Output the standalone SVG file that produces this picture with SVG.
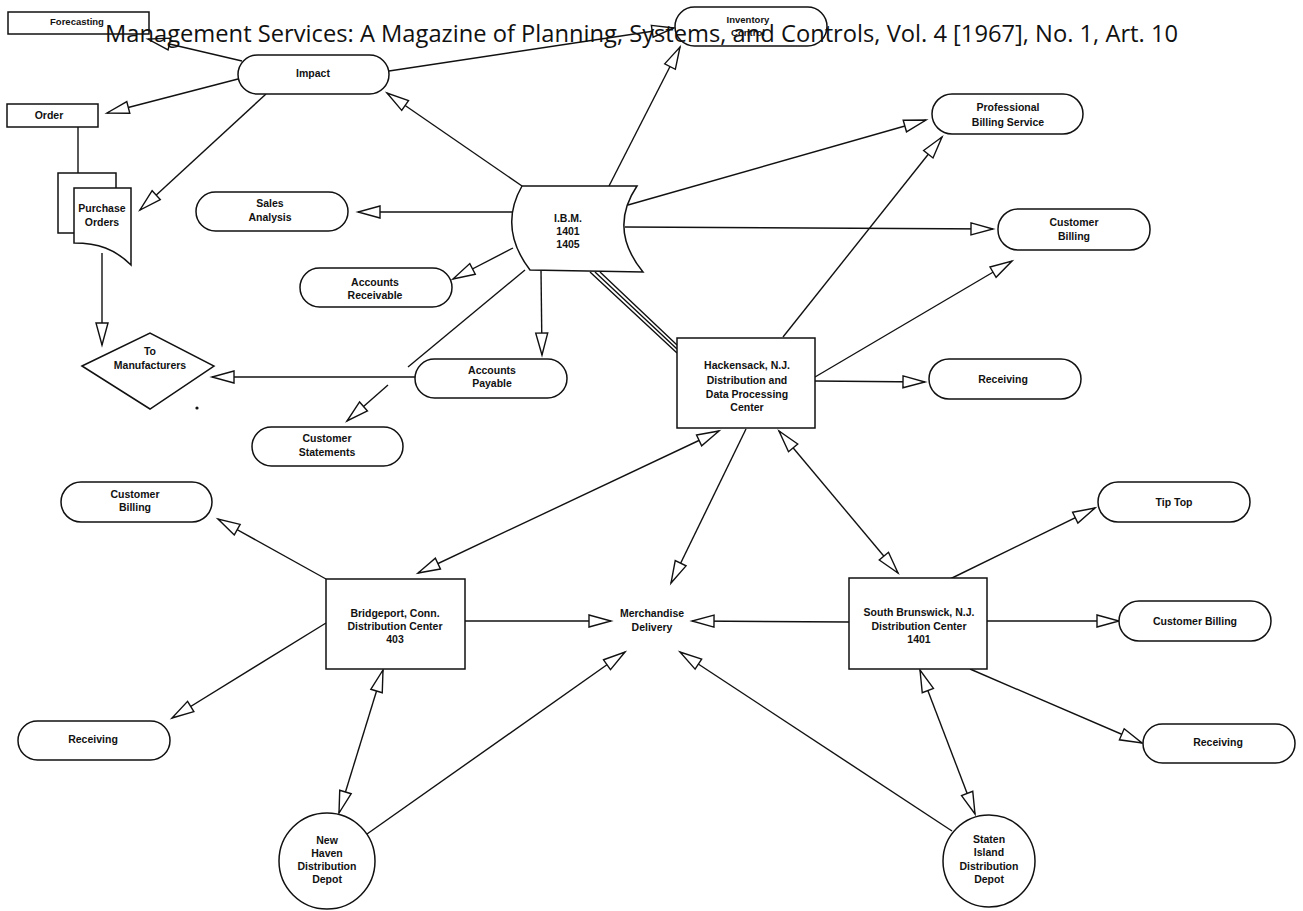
<svg xmlns="http://www.w3.org/2000/svg" width="1303" height="911" viewBox="0 0 1303 911">
<style>
.n{fill:#fff;stroke:#111;stroke-width:1.5}
.c{fill:none;stroke:#111;stroke-width:1.4}
.e{marker-end:url(#a)}
.b{marker-start:url(#a);marker-end:url(#a)}
.t{font-family:"Liberation Sans",Arial,sans-serif;font-weight:bold;font-size:10.5px;fill:#111;text-anchor:middle}
.s{font-size:9.5px}
.h{font-family:"Open Sans","Liberation Sans",sans-serif;font-size:24px;fill:#111}
</style>
<defs>
<marker id="a" markerUnits="userSpaceOnUse" markerWidth="28" markerHeight="16" viewBox="0 0 28 16" refX="24" refY="7.5" orient="auto-start-reverse">
<path d="M2,1.5 L24,7.5 L2,13.5 Z" fill="#fff" stroke="#111" stroke-width="1.4"/>
</marker>
</defs>
<rect width="1303" height="911" fill="#fff"/>
<g id="connectors">
<path class="c e" d="M242,61 L148,39"/>
<path class="c e" d="M238,79 L107,113"/>
<path class="c e" d="M266,94 L140,210"/>
<path class="c e" d="M389,71 L674,28"/>
<path class="c e" d="M522,186 L387,93"/>
<path class="c e" d="M609,186 L680,47"/>
<path class="c e" d="M628,205 L926,120"/>
<path class="c e" d="M625,227 L993,229"/>
<path class="c e" d="M512,212 L358,212"/>
<path class="c e" d="M513,248 L453,279"/>
<path class="c e" d="M541,270 L542,355"/>
<path class="c" d="M525,270 L408,367"/>
<path class="c e" d="M415,377 L212,377"/>
<path class="c e" d="M388,385 L347,421"/>
<path class="c" d="M590,272 L677,353 M595,272 L677,349 M600,272 L677,345"/>
<path class="c e" d="M783,337 L942,137"/>
<path class="c e" d="M815,377 L1012,261"/>
<path class="c e" d="M815,381 L925,382"/>
<path class="c b" d="M719,431 L418,573"/>
<path class="c e" d="M746,429 L671,583"/>
<path class="c b" d="M779,431 L898,573"/>
<path class="c e" d="M465,621 L611,621"/>
<path class="c e" d="M849,622 L692,621"/>
<path class="c e" d="M326,579 L218,519"/>
<path class="c e" d="M326,623 L172,718"/>
<path class="c b" d="M383,670 L339,813"/>
<path class="c e" d="M367,834 L625,652"/>
<path class="c e" d="M952,831 L680,652"/>
<path class="c b" d="M920,670 L975,814"/>
<path class="c e" d="M950,579 L1095,508"/>
<path class="c e" d="M987,621 L1119,621"/>
<path class="c e" d="M970,669 L1142,743"/>
<path class="c" d="M78,127 L78,173"/>
<path class="c e" d="M102,253 L102,345"/>
</g>
<g id="forecasting"><rect class="n" x="8" y="12" width="141" height="22"/><text class="t s" x="77" y="25">Forecasting</text></g>
<g id="impact"><rect class="n" x="238" y="55" width="151" height="39" rx="19.5"/><text class="t" x="313" y="77">Impact</text></g>
<g id="order"><rect class="n" x="7" y="104" width="91" height="23"/><text class="t" x="49" y="119">Order</text></g>
<g id="purchase-orders">
<path class="n" d="M58,173 H116 V233 H58 Z"/>
<path class="n" d="M74,188 H131 V265 C115,249 98,243 74,243 Z"/>
<text class="t" x="102" y="212">Purchase</text><text class="t" x="102" y="226">Orders</text>
</g>
<g id="to-manufacturers"><path class="n" d="M82,366 L150,333 L214,366 L150,409 Z"/><text class="t" x="150" y="355">To</text><text class="t" x="150" y="369">Manufacturers</text></g>
<circle cx="197" cy="408" r="1.6" fill="#111"/>
<g id="sales-analysis"><rect class="n" x="196" y="192" width="152" height="39" rx="19.5"/><text class="t" x="270" y="207">Sales</text><text class="t" x="270" y="221">Analysis</text></g>
<g id="accounts-receivable"><rect class="n" x="300" y="268" width="152" height="39" rx="19.5"/><text class="t" x="375" y="286">Accounts</text><text class="t" x="375" y="299">Receivable</text></g>
<g id="accounts-payable"><rect class="n" x="415" y="359" width="152" height="39" rx="19.5"/><text class="t" x="492" y="374">Accounts</text><text class="t" x="492" y="387">Payable</text></g>
<g id="customer-statements"><rect class="n" x="252" y="427" width="151" height="39" rx="19.5"/><text class="t" x="327" y="442">Customer</text><text class="t" x="327" y="456">Statements</text></g>
<g id="ibm"><path class="n" d="M522,186 L637,186 Q608,229 643,272 L530,270 Q498,228 522,186 Z"/><text class="t" x="568" y="222">I.B.M.</text><text class="t" x="568" y="235">1401</text><text class="t" x="568" y="248">1405</text></g>
<g id="inventory-control"><rect class="n" x="675" y="7" width="152" height="39" rx="19.5"/><text class="t s" x="748" y="23">Inventory</text><text class="t s" x="748" y="36">Control</text></g>
<g id="professional-billing"><rect class="n" x="932" y="94" width="151" height="40" rx="20"/><text class="t" x="1008" y="111">Professional</text><text class="t" x="1008" y="126">Billing Service</text></g>
<g id="customer-billing-1"><rect class="n" x="998" y="209" width="152" height="41" rx="20"/><text class="t" x="1074" y="226">Customer</text><text class="t" x="1074" y="240">Billing</text></g>
<g id="hackensack"><rect class="n" x="677" y="338" width="138" height="90"/><text class="t" x="747" y="369">Hackensack, N.J.</text><text class="t" x="747" y="384">Distribution and</text><text class="t" x="747" y="398">Data Processing</text><text class="t" x="747" y="411">Center</text></g>
<g id="receiving-1"><rect class="n" x="929" y="359" width="152" height="40" rx="20"/><text class="t" x="1003" y="383">Receiving</text></g>
<g id="customer-billing-2"><rect class="n" x="61" y="482" width="151" height="40" rx="20"/><text class="t" x="135" y="498">Customer</text><text class="t" x="135" y="511">Billing</text></g>
<g id="receiving-2"><rect class="n" x="18" y="721" width="152" height="39" rx="19.5"/><text class="t" x="93" y="743">Receiving</text></g>
<g id="bridgeport"><rect class="n" x="326" y="579" width="139" height="90"/><text class="t" x="395" y="617">Bridgeport, Conn.</text><text class="t" x="395" y="630">Distribution Center</text><text class="t" x="395" y="643">403</text></g>
<g id="merchandise-delivery"><text class="t" x="652" y="617">Merchandise</text><text class="t" x="652" y="631">Delivery</text></g>
<g id="south-brunswick"><rect class="n" x="849" y="578" width="138" height="91"/><text class="t" x="919" y="616">South Brunswick, N.J.</text><text class="t" x="919" y="630">Distribution Center</text><text class="t" x="919" y="643">1401</text></g>
<g id="tip-top"><rect class="n" x="1098" y="482" width="152" height="40" rx="20"/><text class="t" x="1174" y="506">Tip Top</text></g>
<g id="customer-billing-3"><rect class="n" x="1119" y="601" width="152" height="40" rx="20"/><text class="t" x="1195" y="625">Customer Billing</text></g>
<g id="receiving-3"><rect class="n" x="1143" y="724" width="152" height="39" rx="19.5"/><text class="t" x="1218" y="746">Receiving</text></g>
<g id="new-haven"><circle class="n" cx="327" cy="861" r="48"/><text class="t" x="327" y="844">New</text><text class="t" x="327" y="857">Haven</text><text class="t" x="327" y="870">Distribution</text><text class="t" x="327" y="883">Depot</text></g>
<g id="staten-island"><circle class="n" cx="989" cy="861" r="46"/><text class="t" x="989" y="843">Staten</text><text class="t" x="989" y="856">Island</text><text class="t" x="989" y="870">Distribution</text><text class="t" x="989" y="883">Depot</text></g>
<text class="h" x="105" y="42" textLength="1073" lengthAdjust="spacingAndGlyphs">Management Services: A Magazine of Planning, Systems, and Controls, Vol. 4 [1967], No. 1, Art. 10</text>
</svg>
